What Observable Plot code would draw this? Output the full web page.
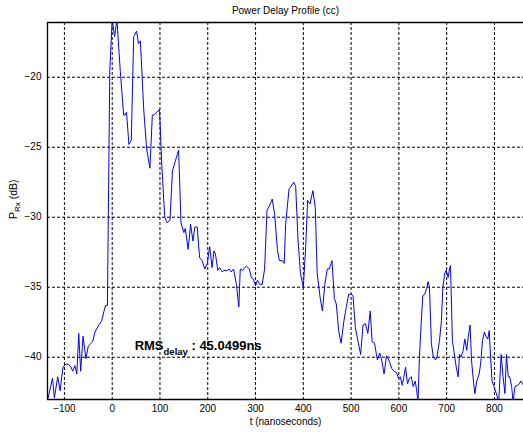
<!DOCTYPE html>
<html><head><meta charset="utf-8">
<script src="https://cdn.jsdelivr.net/npm/d3@7"></script>
<script src="https://cdn.jsdelivr.net/npm/@observablehq/plot@0.6"></script>
<style>body{margin:0;background:#fff}</style>
</head><body><div id="chart"></div>
<script>
const tNs = [-134,-125,-121,-114,-109,-103,-97,-92,-86,-83,-78,-74,-70,-66,-61,-55,-50,-41,-36,-28,-22,-17,-14,-10,-5,0,5,10,17,24,27,30,35,40,45,51,55,59,66,72,79,84,87,99,104,110,115,121,126,132,139,144,150,153,159,164,169,173,178,183,188,194,199,204,209,213,216,221,225,230,234,241,245,249,254,260,265,268,273,277,281,287,291,295,300,304,309,314,319,324,329,335,340,346,350,356,360,363,370,372,380,384,389,394,400,405,409,414,420,425,429,435,440,445,450,454,460,465,469,474,479,485,490,495,500,504,509,514,520,525,530,535,540,544,549,555,560,564,569,574,579,585,590,595,599,603,607,610,614,618,622,626,630,634,637,640,643,647,650,654,658,661,664,668,672,677,680,685,689,692,696,699,703,706,708,712,717,720,724,727,730,734,738,742,745,749,752,756,759,763,768,771,775,779,782,786,789,792,795,799,804,809,814,818,822,825,829,832,836,839,843,849,852,855,859,862];
const pRx = [-42.9,-41.5,-42.9,-41.4,-42.4,-40.7,-40.5,-40.5,-40.7,-41.0,-40.6,-41.2,-38.3,-41.0,-38.5,-40.1,-39.2,-38.9,-38.2,-37.7,-37.4,-36.7,-36.3,-36.3,-19.5,-15.9,-17.1,-15.9,-19.6,-22.7,-22.7,-22.5,-24.8,-24.5,-17.1,-16.7,-17.6,-17.4,-22.3,-25.1,-26.5,-22.7,-22.7,-22.3,-26.4,-30.0,-30.4,-30.2,-26.7,-26.0,-25.2,-30.4,-31.1,-30.8,-32.3,-30.5,-31.7,-30.7,-30.7,-32.9,-33.1,-33.7,-33.3,-32.1,-33.6,-32.4,-32.6,-33.8,-33.6,-33.9,-33.8,-33.8,-33.7,-33.9,-33.7,-34.8,-36.4,-33.7,-33.8,-33.6,-33.5,-33.7,-34.3,-34.4,-34.9,-34.5,-34.8,-34.8,-33.7,-29.5,-29.2,-28.7,-29.8,-32.4,-33.1,-33.1,-33.3,-30.5,-28.0,-27.9,-27.5,-27.8,-31.7,-34.0,-35.0,-32.1,-28.8,-29.05,-28.1,-29.3,-34.0,-35.7,-36.7,-34.8,-33.7,-33.7,-33.1,-35.8,-36.2,-38.1,-39.0,-37.4,-36.4,-35.5,-35.5,-35.6,-37.9,-38.8,-39.8,-37.7,-37.6,-38.3,-36.7,-38.9,-39.0,-40.2,-39.7,-40.2,-41.2,-39.9,-40.2,-40.8,-41.0,-41.1,-41.5,-41.4,-42.0,-41.5,-40.7,-41.9,-41.5,-41.4,-42.1,-41.7,-42.3,-43.2,-40.0,-37.4,-35.6,-35.5,-35.1,-34.6,-35.0,-39.0,-40.0,-40.2,-39.9,-38.8,-37.4,-35.0,-34.0,-33.8,-34.3,-33.7,-33.45,-38.8,-40.0,-40.7,-41.4,-39.8,-40.0,-39.6,-38.7,-39.5,-38.6,-37.7,-40.2,-41.7,-42.6,-41.7,-41.2,-40.5,-38.8,-38.2,-38.5,-38.7,-38.1,-40.0,-41.7,-42.1,-42.6,-43.2,-39.8,-41.4,-42.6,-39.8,-41.4,-41.4,-42.1,-43.2,-42.1,-42.0,-41.9,-41.7,-41.9,-42.1];
const xTicks = [-100,0,100,200,300,400,500,600,700,800];
const yTicks = [-40,-35,-30,-25,-20];
const xDomain = [-135.4, 860.8];
const yDomain = [-43.02, -16.09];
const titleText = "Power Delay Profile (cc)";
const xLabel = "t (nanoseconds)";
const yLabelParts = ["P", "Rx", " (dB)"];
const rmsParts = ["RMS", "delay", " : 45.0499ns"];
const rmsPos = [{t: 47, p: -39.45}];

const data = tNs.map((d, i) => ({t: d, p: pRx[i]}));
const yLabelStr = yLabelParts.join("");
const rmsStr = rmsParts.join("");

const chart = Plot.plot({
  width: 523, height: 435,
  marginLeft: 47, marginRight: 0, marginTop: 22, marginBottom: 36,
  style: {fontFamily: "'Liberation Sans', Arial, Helvetica, sans-serif", fontSize: "10px", background: "#fff", color: "#000"},
  x: {domain: xDomain},
  y: {domain: yDomain},
  marks: [
    Plot.gridX(xTicks, {stroke: "#000", strokeOpacity: 1, strokeDasharray: "3,2"}),
    Plot.gridY(yTicks, {stroke: "#000", strokeOpacity: 1, strokeDasharray: "3,2"}),
    Plot.lineY(data, {x: "t", y: "p", stroke: "#0000ff", strokeWidth: 1, clip: true}),
    Plot.ruleY(yDomain, {stroke: "#000", strokeWidth: 1.3}),
    Plot.ruleX([xDomain[0]], {stroke: "#000", strokeWidth: 1.3}),
    Plot.axisX(xTicks, {tickSize: 0, tickPadding: 5, label: null, fontSize: 10}),
    Plot.axisY(yTicks, {tickSize: 0, tickPadding: 6, label: null, fontSize: 10}),
    Plot.text([titleText], {text: d => d, frameAnchor: "top", dy: -8.5, lineAnchor: "bottom", fontSize: 10}),
    Plot.text([xLabel], {text: d => d, frameAnchor: "bottom", dy: 25, lineAnchor: "bottom", fontSize: 10}),
    Plot.text([yLabelStr], {text: d => d, frameAnchor: "left", dx: -30.5, dy: 8, rotate: -90, lineAnchor: "bottom", fontSize: 10.5}),
    Plot.text(rmsPos, {x: "t", y: "p", text: () => rmsStr, textAnchor: "start", lineAnchor: "bottom", fontWeight: "bold", fontSize: 13})
  ]
});
document.getElementById("chart").appendChild(chart);

function subscriptify(str, parts, subSize, shift) {
  d3.select(chart).selectAll("text").filter(function() { return this.textContent === str; }).each(function() {
    const el = d3.select(this);
    el.selectAll("*").remove();
    el.text(null);
    el.append("tspan").text(parts[0]);
    el.append("tspan").attr("dy", shift).attr("font-size", subSize).text(parts[1]);
    el.append("tspan").attr("dy", -shift).text(parts[2]);
  });
}
subscriptify(yLabelStr, yLabelParts, 8, 3);
subscriptify(rmsStr, rmsParts, 9.5, 5);
</script></body></html>
